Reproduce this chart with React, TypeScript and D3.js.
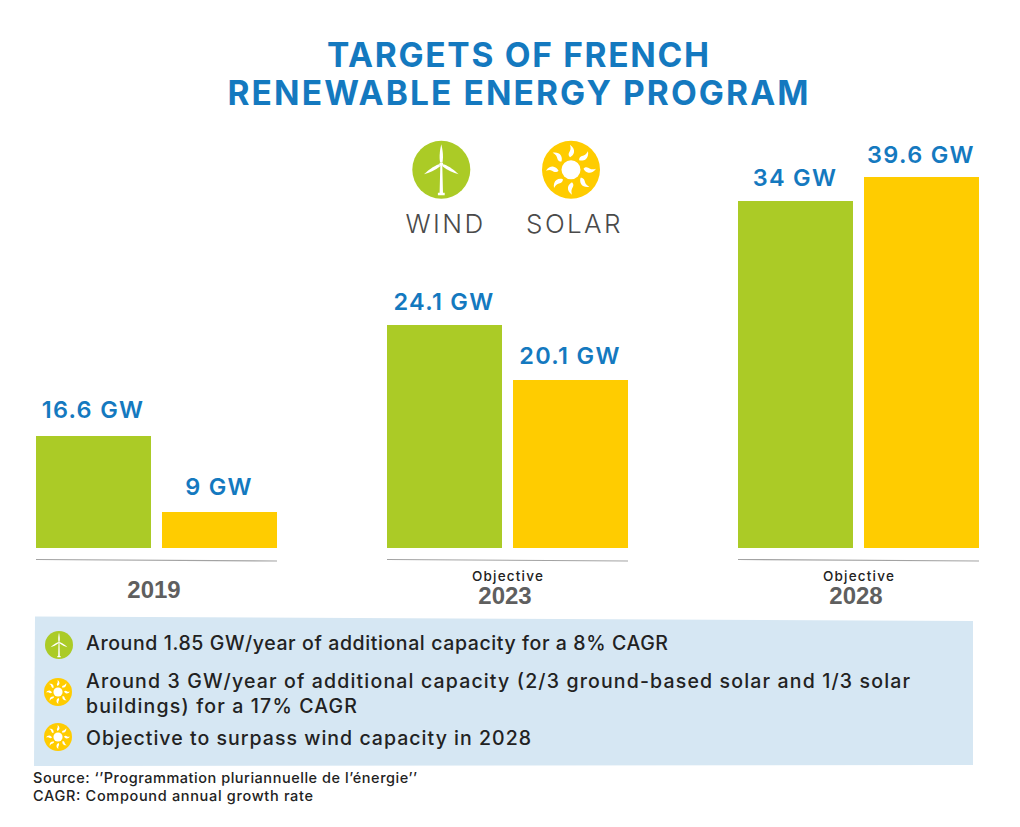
import React from 'react';
import { scaleBand, scaleLinear, range } from 'd3';

const years = ['2019', '2023', '2028'];
const yearPrefix = ['', 'Objective', 'Objective'];
const sources = ['wind', 'solar'];
const windValues = [16.6, 24.1, 34];
const solarValues = [9, 20.1, 39.6];
const windLabels = ['16.6 GW', '24.1 GW', '34 GW'];
const solarLabels = ['9 GW', '20.1 GW', '39.6 GW'];
const titleLines = ['TARGETS OF FRENCH', 'RENEWABLE ENERGY PROGRAM'];
const noteIcons = ['wind', 'solar', 'solar'];
const noteLines = [
  ['Around 1.85 GW/year of additional capacity for a 8% CAGR'],
  ['Around 3 GW/year of additional capacity (2/3 ground-based solar and 1/3 solar', 'buildings) for a 17% CAGR'],
  ['Objective to surpass wind capacity in 2028'],
];
const footer = ['Source: ‘’Programmation pluriannuelle de l’énergie’’', 'CAGR: Compound annual growth rate'];

const width = 1020;
const height = 827;
const baseline = 548;
const font = "Inter, 'Open Sans', sans-serif";
const colors = { wind: '#abcb26', solar: '#ffcc00', blue: '#1479bf', panel: '#d6e7f3', dark: '#222222', year: '#5f5f5f', rule: '#a3a3a3' };

// layout of the text, matched by eye to the artwork (its font runs wider than Inter)
const titleWidths = [382, 581];
const windLabelGap = [18, 15, 15];
const solarLabelGap = [17, 16, 14];
const noteBaselines = [650, 688, 745];
const noteIconY = [645, 692, 737];
const noteWidths = [[582], [824, 271], [445]];
const footerWidths = [384, 280];

// the original artwork is not drawn to a single linear scale, so this one is piecewise
const y = scaleLinear()
  .domain([0, 9, 16.6, 20.1, 24.1, 34, 39.6])
  .range([baseline, 512, 436, 380, 325, 201, 177]);

const x0 = scaleBand().domain(years).range([36, 979]).paddingInner(110 / 351);
const x1 = scaleBand().domain(sources).range([0, x0.bandwidth()]).paddingInner(11 / 126);

const WindIcon = ({ cx, cy, r }: { cx: number; cy: number; r: number }) => (
  <g transform={`translate(${cx},${cy}) scale(${r / 29})`}>
    <circle r={29} fill={colors.wind} />
    <path d="M-1,-4 L-1.7,23 L-3.4,23 L-3.4,25.5 L3.4,25.5 L3.4,23 L1.7,23 L1,-4 Z" fill="#fff" />
    {range(3).map(i => (
      <path
        key={i}
        transform={`translate(0,-5.5) rotate(${i * 120})`}
        d="M-1.2,-2 C-2.4,-8 -1.2,-15 0,-20 C1.2,-15 2.4,-8 1.2,-2 Z"
        fill="#fff"
      />
    ))}
    <circle cy={-5.5} r={2} fill="#fff" />
  </g>
);

const SolarIcon = ({ cx, cy, r }: { cx: number; cy: number; r: number }) => (
  <g transform={`translate(${cx},${cy}) scale(${r / 29})`}>
    <circle r={29} fill={colors.solar} />
    <circle r={9.5} fill="#fff" />
    {range(8).map(i => (
      <path
        key={i}
        transform={`rotate(${i * 45})`}
        d="M-1,-12.5 C-3.5,-15 -2,-17 -1,-19 C0,-21 -0.5,-23 -1,-25 C2,-23 3.5,-20 3,-17.5 C2.7,-15.5 1,-13.5 -1,-12.5 Z"
        fill="#fff"
      />
    ))}
  </g>
);

export default function App() {
  const groups = years.map((year, i) => ({
    year,
    prefix: yearPrefix[i],
    bars: [
      { key: 'wind', value: windValues[i], label: windLabels[i], gap: windLabelGap[i] },
      { key: 'solar', value: solarValues[i], label: solarLabels[i], gap: solarLabelGap[i] },
    ],
  }));
  return (
    <svg
      width={width}
      height={height}
      viewBox={`0 0 ${width} ${height}`}
      style={{ position: 'absolute', left: 0, top: 0, background: '#fff' }}
    >
      {titleLines.map((t, i) => (
        <text key={t} x={518} y={67 + i * 38} textAnchor="middle" textLength={titleWidths[i]} fontFamily={font} fontWeight={700} fontSize={33.5} fill={colors.blue}>
          {t}
        </text>
      ))}

      {groups.map(g => {
        const gx = x0(g.year) as number;
        return (
          <g key={g.year}>
            {g.bars.map(b => {
              const bx = gx + (x1(b.key) as number);
              return (
                <g key={b.key}>
                  <rect x={bx} y={y(b.value)} width={x1.bandwidth()} height={baseline - y(b.value)} fill={colors[b.key as 'wind' | 'solar']} />
                  <text x={bx + x1.bandwidth() / 2 - 0.5} y={y(b.value) - b.gap} textAnchor="middle" letterSpacing={1.3} fontFamily={font} fontWeight={600} fontSize={23.5} fill={colors.blue}>
                    {b.label}
                  </text>
                </g>
              );
            })}
            <line x1={gx} y1={559.5} x2={gx + x0.bandwidth()} y2={561} stroke={colors.rule} strokeWidth={1.2} />
            {g.prefix && (
              <text x={gx + x0.bandwidth() / 2 + 0.5} y={580.5} textAnchor="middle" letterSpacing={1.2} fontFamily={font} fontWeight={500} fontSize={13.5} fill={colors.dark}>
                {g.prefix}
              </text>
            )}
            <text x={gx + x0.bandwidth() / 2 - 2.5} y={g.prefix ? 604 : 598} textAnchor="middle" fontFamily="'Liberation Sans', Arial, sans-serif" fontWeight={700} fontSize={24} fill={colors.year}>
              {g.year}
            </text>
          </g>
        );
      })}

      <WindIcon cx={441.3} cy={169.7} r={29} />
      <SolarIcon cx={571} cy={169.7} r={29} />
      <text x={445.5} y={233} textAnchor="middle" letterSpacing={2.4} fontFamily={font} fontWeight={300} fontSize={26} fill="#4a4a4a">WIND</text>
      <text x={574.5} y={233} textAnchor="middle" letterSpacing={2.4} fontFamily={font} fontWeight={300} fontSize={26} fill="#4a4a4a">SOLAR</text>

      <polygon points="35,616.5 973,621 973,765 34,766" fill={colors.panel} />
      {noteLines.map((lines, i) => (
        <g key={i}>
          {noteIcons[i] === 'wind'
            ? <WindIcon cx={59} cy={noteIconY[i]} r={14} />
            : <SolarIcon cx={58} cy={noteIconY[i]} r={14} />}
          {lines.map((l, j) => (
            <text key={l} x={86} y={noteBaselines[i] + j * 25} textLength={noteWidths[i][j]} fontFamily={font} fontWeight={500} fontSize={19.5} fill={colors.dark}>
              {l}
            </text>
          ))}
        </g>
      ))}

      {footer.map((f, i) => (
        <text key={f} x={33} y={783 + i * 18} textLength={footerWidths[i]} fontFamily={font} fontWeight={500} fontSize={14.5} fill={colors.dark}>
          {f}
        </text>
      ))}
    </svg>
  );
}
